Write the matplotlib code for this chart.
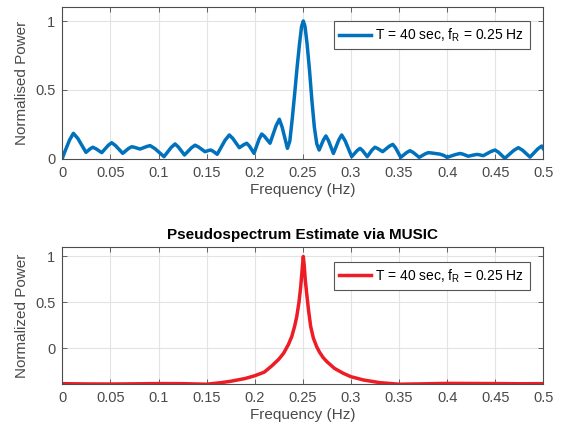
import numpy as np
import matplotlib
matplotlib.use('Agg')
import matplotlib.pyplot as plt

plt.rcParams['font.family'] = ['Liberation Sans', 'DejaVu Sans']

# periodogram (top)
freq_top = [0, 0.003, 0.0075, 0.0115, 0.0161, 0.0246, 0.0292, 0.0316, 0.0349, 0.041,
            0.0477, 0.0513, 0.0553, 0.0628, 0.0688, 0.0721, 0.0751, 0.0808, 0.0876, 0.0912,
            0.0963, 0.1057, 0.1132, 0.1172, 0.1206, 0.127, 0.1342, 0.138, 0.1416, 0.1483,
            0.1522, 0.1543, 0.1566, 0.161, 0.1692, 0.1736, 0.1772, 0.184, 0.189, 0.1917,
            0.1944, 0.1993, 0.2045, 0.2073, 0.2103, 0.2159, 0.2222, 0.2256, 0.2285, 0.234,
            0.2365, 0.239, 0.2415, 0.244, 0.2465, 0.2487, 0.2505, 0.2523, 0.2545, 0.257,
            0.2595, 0.262, 0.2645, 0.267, 0.2715, 0.274, 0.2767, 0.2818, 0.2874, 0.2904,
            0.294, 0.3008, 0.3065, 0.3095, 0.3121, 0.317, 0.3222, 0.325, 0.3278, 0.333,
            0.3398, 0.3435, 0.3464, 0.3518, 0.358, 0.3614, 0.3648, 0.371, 0.3772, 0.3805,
            0.3845, 0.3926, 0.3965, 0.400, 0.4087, 0.4134, 0.4164, 0.422, 0.4277, 0.4308,
            0.4332, 0.4376, 0.4455, 0.4498, 0.4534, 0.460, 0.4691, 0.474, 0.4783, 0.4862,
            0.4941, 0.4983, 0.5]
power_top = [0.005, 0.06, 0.137, 0.186, 0.149, 0.048, 0.075, 0.085, 0.0745, 0.046,
             0.0986, 0.118, 0.097, 0.041, 0.076, 0.089, 0.0844, 0.072, 0.090, 0.097,
             0.075, 0.017, 0.084, 0.109, 0.087, 0.029, 0.081, 0.10, 0.087, 0.053,
             0.062, 0.065, 0.0566, 0.034, 0.136, 0.174, 0.149, 0.082, 0.105, 0.114,
             0.094, 0.041, 0.143, 0.181, 0.163, 0.114, 0.241, 0.288, 0.231, 0.077,
             0.13, 0.29, 0.47, 0.66, 0.83, 0.96, 1.0, 0.96, 0.83, 0.64,
             0.42, 0.23, 0.11, 0.065, 0.139, 0.167, 0.133, 0.04, 0.138, 0.174,
             0.132, 0.017, 0.061, 0.077, 0.061, 0.017, 0.067, 0.085, 0.076, 0.053,
             0.092, 0.106, 0.081, 0.012, 0.047, 0.06, 0.047, 0.012, 0.037, 0.046,
             0.043, 0.035, 0.026, 0.012, 0.032, 0.04, 0.035, 0.02, 0.029, 0.033,
             0.031, 0.024, 0.054, 0.065, 0.049, 0.005, 0.061, 0.082, 0.064, 0.014,
             0.072, 0.094, 0.075]

# MUSIC pseudospectrum (bottom)
freq_bot = [0, 0.025, 0.05, 0.075, 0.1, 0.125, 0.15, 0.165, 0.175, 0.19,
            0.2, 0.21, 0.218, 0.225, 0.23, 0.235, 0.2385, 0.2415, 0.2437, 0.246,
            0.2478, 0.2495, 0.2505, 0.2515, 0.2525, 0.254, 0.256, 0.2582, 0.261, 0.2644,
            0.2675, 0.271, 0.275, 0.283, 0.292, 0.30, 0.313, 0.33, 0.35, 0.375,
            0.4, 0.425, 0.45, 0.475, 0.5]
power_bot = [-0.386, -0.389, -0.39, -0.388, -0.385, -0.386, -0.392, -0.375, -0.36, -0.33,
             -0.30, -0.26, -0.19, -0.12, -0.055, 0.04, 0.127, 0.24, 0.345, 0.5,
             0.67, 0.88, 1.0, 0.9, 0.75, 0.6, 0.41, 0.236, 0.11, 0.017,
             -0.045, -0.1, -0.146, -0.22, -0.273, -0.31, -0.346, -0.375, -0.392, -0.388,
             -0.383, -0.384, -0.385, -0.387, -0.386]

xticks = [0, 0.05, 0.1, 0.15, 0.2, 0.25, 0.3, 0.35, 0.4, 0.45, 0.5]
xticklabels = ['0', '0.05', '0.1', '0.15', '0.2', '0.25', '0.3', '0.35', '0.4', '0.45', '0.5']
yticks = [0, 0.5, 1]
yticklabels = ['0', '0.5', '1']
legend_text = 'T = 40 sec, f$_\\mathregular{R}$ = 0.25 Hz'

fig = plt.figure(figsize=(5.65, 4.29), dpi=100)
ax1 = fig.add_axes([0.1103, 0.6294, 0.8513, 0.3538])
ax2 = fig.add_axes([0.1103, 0.1042, 0.8513, 0.3193])

edge = '#4d4d4d'
txt = '#4a4a4a'
for ax in (ax1, ax2):
    ax.set_xlim(0, 0.5)
    ax.set_xticks(xticks)
    ax.set_xticklabels(xticklabels)
    ax.set_yticks(yticks)
    ax.set_yticklabels(yticklabels)
    ax.grid(True, color='#e3e3e3', linewidth=0.8)
    ax.set_axisbelow(True)
    ax.tick_params(direction='in', length=3.5, width=0.6, top=True, right=True,
                   labelsize=10.5, colors=edge, labelcolor=txt, pad=5)
    for s in ax.spines.values():
        s.set_color(edge)
        s.set_linewidth(0.8)
    ax.set_xlabel('Frequency (Hz)', fontsize=11, color=txt, labelpad=2)

ax1.plot(freq_top, power_top, color='#0072BD', linewidth=2.5, label=legend_text)
ax1.set_ylim(0, 1.1)
ax1.set_ylabel('Normalised Power', fontsize=11, color=txt, labelpad=4)

ax2.plot(freq_bot, power_bot, color='#EE1C25', linewidth=2.5, label=legend_text)
ax2.set_ylim(-0.393, 1.1)
ax2.set_ylabel('Normalized Power', fontsize=11, color=txt, labelpad=4)
ax2.set_title('Pseudospectrum Estimate via MUSIC', fontsize=11, fontweight='bold', pad=6)

for ax, top in ((ax1, 0.91), (ax2, 0.895)):
    leg = ax.legend(loc='upper right', bbox_to_anchor=(0.972, top), fontsize=10,
                    fancybox=False, framealpha=1, edgecolor='#555555', borderaxespad=0,
                    handlelength=2.3, borderpad=0.4, handletextpad=0.3)
    leg.get_frame().set_linewidth(0.8)

fig.savefig('out.png', dpi=100)
